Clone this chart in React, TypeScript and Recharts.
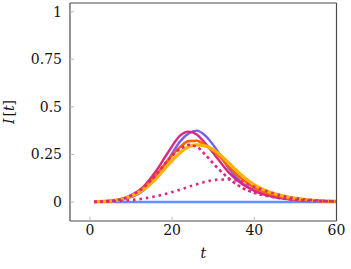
import React from 'react';
import { LineChart, Line, XAxis, YAxis } from 'recharts';

// time points (days)
const tValues = [1, 4, 7, 10, 13, 16, 19, 22, 24, 26, 28, 31, 34, 37, 40, 44, 48, 52, 56, 60];

// infected fraction I[t] for each scenario
const baseline = [0, 0, 0, 0, 0, 0, 0, 0, 0, 0, 0, 0, 0, 0, 0, 0, 0, 0, 0, 0];
const purple = [0.001, 0.003, 0.009, 0.025, 0.06, 0.13, 0.22, 0.32, 0.36, 0.375, 0.35, 0.27, 0.17, 0.1, 0.06, 0.03, 0.015, 0.007, 0.004, 0.002];
const magenta = [0.001, 0.004, 0.012, 0.035, 0.08, 0.16, 0.26, 0.35, 0.37, 0.355, 0.31, 0.23, 0.15, 0.095, 0.06, 0.032, 0.017, 0.009, 0.005, 0.002];
const orange = [0.001, 0.004, 0.012, 0.033, 0.075, 0.14, 0.22, 0.29, 0.32, 0.322, 0.3, 0.25, 0.18, 0.12, 0.075, 0.04, 0.02, 0.01, 0.005, 0.003];
const gold = [0.001, 0.004, 0.011, 0.03, 0.065, 0.12, 0.195, 0.26, 0.29, 0.3, 0.295, 0.26, 0.2, 0.14, 0.09, 0.05, 0.027, 0.014, 0.007, 0.003];
const dashed = [0.001, 0.004, 0.012, 0.033, 0.075, 0.14, 0.22, 0.28, 0.3, 0.29, 0.25, 0.18, 0.12, 0.075, 0.048, 0.028, 0.016, 0.009, 0.005, 0.002];
const dotted = [0, 0.002, 0.005, 0.01, 0.018, 0.03, 0.046, 0.065, 0.08, 0.093, 0.105, 0.117, 0.118, 0.105, 0.08, 0.05, 0.027, 0.014, 0.007, 0.003];

const xTicks = [0, 20, 40, 60];
const yTicks = [0, 0.25, 0.5, 0.75, 1];

const data = tValues.map((t, i) => ({
    t,
    baseline: baseline[i],
    purple: purple[i],
    magenta: magenta[i],
    orange: orange[i],
    gold: gold[i],
    dashed: dashed[i],
    dotted: dotted[i],
}));

const FONT = '"DejaVu Serif", serif';
const FONT_SIZE = 14;
const FRAME = '#4a4a4a';
const TICK = '#b8b8b8';
const X_DOMAIN: [number, number] = [-4.85, 60];
const Y_DOMAIN: [number, number] = [-0.1, 1.046];

// tick label drawn as plain svg text so the serif font sticks
const TickText = (props: any) => {
    const { x, y, payload, textAnchor, orient } = props;
    return (
        <text
            x={x}
            y={y}
            dy={orient === 'bottom' ? '0.71em' : '0.34em'}
            textAnchor={textAnchor}
            style={{ fontFamily: FONT, fontSize: FONT_SIZE, fill: '#111' }}
        >
            {payload.value}
        </text>
    );
};

const YLabel = (props: any) => {
    const { viewBox } = props;
    const x = viewBox.x + 14;
    const y = viewBox.y + viewBox.height / 2;
    return (
        <text
            x={x}
            y={y}
            transform={`rotate(-90, ${x}, ${y})`}
            textAnchor="middle"
            style={{ fontFamily: FONT, fontSize: FONT_SIZE, fill: '#111' }}
        >
            <tspan style={{ fontStyle: 'italic' }}>I</tspan>
            <tspan dx={2}>[</tspan>
            <tspan style={{ fontStyle: 'italic' }}>t</tspan>
            <tspan>]</tspan>
        </text>
    );
};

const XLabel = (props: any) => {
    const { viewBox } = props;
    return (
        <text
            x={viewBox.x + viewBox.width / 2}
            y={viewBox.y + viewBox.height - 11}
            textAnchor="middle"
            style={{ fontFamily: FONT, fontSize: FONT_SIZE, fontStyle: 'italic', fill: '#111' }}
        >
            t
        </text>
    );
};

const App: React.FC = () => {
    return (
        <div style={{ position: 'absolute', left: 0, top: 0, fontFamily: FONT }}>
            <LineChart
                width={351}
                height={269}
                data={data}
                margin={{ top: 2, right: 13.5, left: 0, bottom: 0 }}
            >
                <XAxis
                    dataKey="t"
                    type="number"
                    domain={X_DOMAIN}
                    ticks={xTicks}
                    allowDataOverflow
                    height={48}
                    tickSize={-4}
                    tickMargin={13}
                    tick={<TickText />}
                    tickLine={{ stroke: TICK }}
                    axisLine={{ stroke: FRAME, strokeWidth: 1.2 }}
                    label={<XLabel />}
                />
                <XAxis
                    xAxisId="top"
                    orientation="top"
                    dataKey="t"
                    type="number"
                    domain={X_DOMAIN}
                    ticks={xTicks}
                    allowDataOverflow
                    height={1}
                    tickSize={-4}
                    tick={false}
                    tickLine={{ stroke: TICK }}
                    axisLine={{ stroke: FRAME, strokeWidth: 1.2 }}
                />
                <YAxis
                    type="number"
                    domain={Y_DOMAIN}
                    ticks={yTicks}
                    allowDataOverflow
                    width={70}
                    tickSize={-4}
                    tickMargin={12}
                    tick={<TickText />}
                    tickLine={{ stroke: TICK }}
                    axisLine={{ stroke: FRAME, strokeWidth: 1.2 }}
                    label={<YLabel />}
                />
                <YAxis
                    yAxisId="right"
                    orientation="right"
                    type="number"
                    domain={Y_DOMAIN}
                    ticks={yTicks}
                    allowDataOverflow
                    width={1}
                    tickSize={-4}
                    tick={false}
                    tickLine={{ stroke: TICK }}
                    axisLine={{ stroke: FRAME, strokeWidth: 1.2 }}
                />
                {/* the flat line sits on the mirrored axes so they get drawn */}
                <Line xAxisId="top" yAxisId="right" type="monotone" dataKey="baseline" stroke="#648FFF" strokeWidth={2.4} dot={false} isAnimationActive={false} />
                <Line type="monotone" dataKey="purple" stroke="#785EF0" strokeWidth={2.4} dot={false} isAnimationActive={false} />
                <Line type="monotone" dataKey="magenta" stroke="#DC267F" strokeWidth={2.4} dot={false} isAnimationActive={false} />
                <Line type="monotone" dataKey="orange" stroke="#FE6100" strokeWidth={2.6} dot={false} isAnimationActive={false} />
                <Line type="monotone" dataKey="gold" stroke="#FFB000" strokeWidth={3.2} dot={false} isAnimationActive={false} />
                <Line type="monotone" dataKey="dashed" stroke="#DC267F" strokeWidth={2.6} strokeDasharray="3 3" dot={false} isAnimationActive={false} />
                <Line type="monotone" dataKey="dotted" stroke="#DC267F" strokeWidth={2.6} strokeDasharray="2.5 4" dot={false} isAnimationActive={false} />
            </LineChart>
        </div>
    );
};

export default App;
